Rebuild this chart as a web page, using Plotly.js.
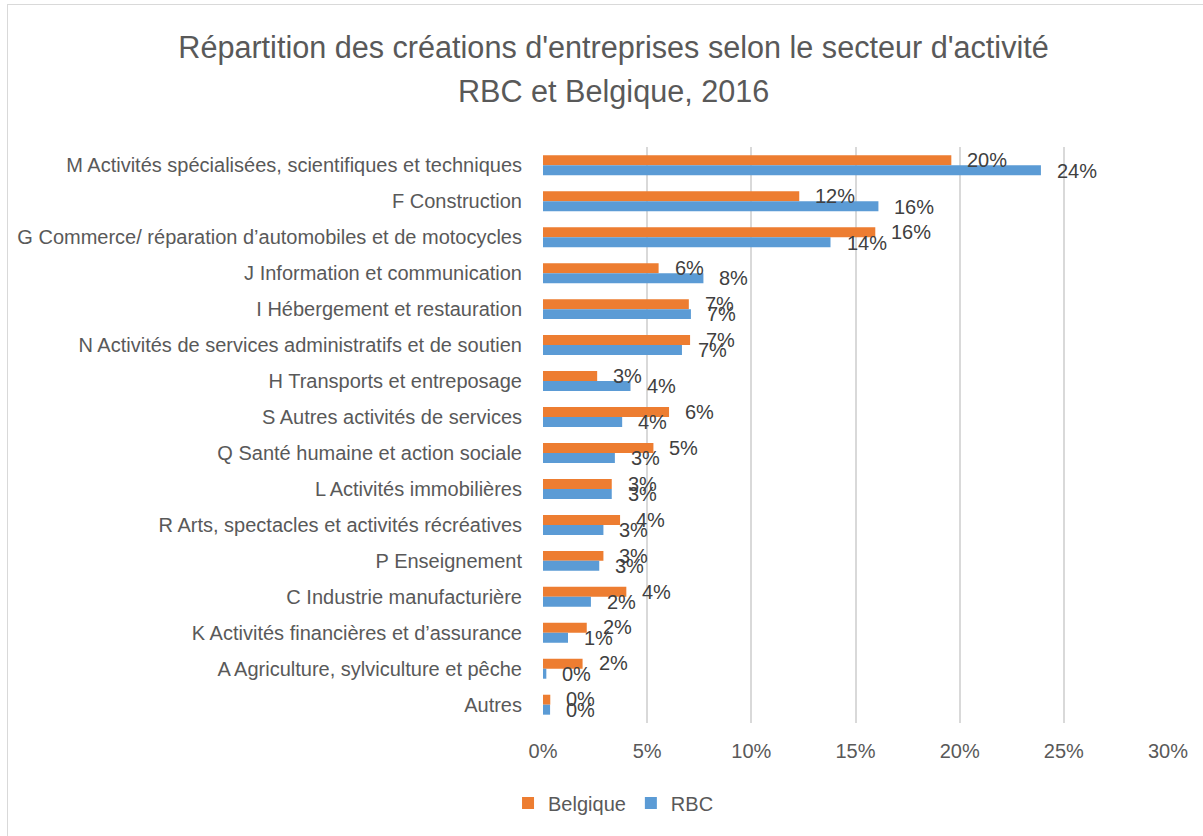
<!DOCTYPE html>
<html>
<head>
<meta charset="utf-8">
<script src="https://cdn.plot.ly/plotly-3.0.1.min.js"></script>
<style>
  html, body { margin: 0; padding: 0; background: #fff; }
  #wrap { position: relative; width: 1203px; height: 836px; overflow: hidden; }
  #chart { position: absolute; left: 0; top: 0; width: 1203px; height: 836px; }
  #frame { position: absolute; left: 7px; top: 4px; width: 1300px; height: 900px;
           border-left: 1px solid #d9d9d9; border-top: 1px solid #d9d9d9; pointer-events: none; }
</style>
</head>
<body>
<div id="wrap">
  <div id="chart"></div>
  <div id="frame"></div>
</div>
<script>
const categories = [
  "M Activités spécialisées, scientifiques et techniques",
  "F Construction",
  "G Commerce/ réparation d’automobiles et de motocycles",
  "J Information et communication",
  "I Hébergement et restauration",
  "N Activités de services administratifs et de soutien",
  "H Transports et entreposage",
  "S Autres activités de services",
  "Q Santé humaine et action sociale",
  "L Activités immobilières",
  "R Arts, spectacles et activités récréatives",
  "P Enseignement",
  "C Industrie manufacturière",
  "K Activités financières et d’assurance",
  "A Agriculture, sylviculture et pêche",
  "Autres"
];
// values in percent
const belgique = [19.6, 12.3, 15.95, 5.55, 7.0, 7.06, 2.6, 6.05, 5.3, 3.3, 3.7, 2.9, 4.0, 2.1, 1.9, 0.35];
const rbc      = [23.9, 16.1, 13.8, 7.7, 7.1, 6.67, 4.2, 3.8, 3.45, 3.3, 2.9, 2.7, 2.3, 1.2, 0.16, 0.34];
const xTickVals = [0, 5, 10, 15, 20, 25, 30];
const xTickText = ["0%", "5%", "10%", "15%", "20%", "25%", "30%"];
const titleLine1 = "Répartition des créations d'entreprises selon le secteur d'activité";
const titleLine2 = "RBC et Belgique, 2016";

const FONT = '"Liberation Sans", Arial, sans-serif';
const ORANGE = '#ED7D31';
const BLUE = '#5B9BD5';

const traces = [
  { type: 'bar', orientation: 'h', name: 'Belgique', y: categories, x: belgique,
    marker: { color: ORANGE }, hoverinfo: 'x+y' },
  { type: 'bar', orientation: 'h', name: 'RBC', y: categories, x: rbc,
    marker: { color: BLUE }, hoverinfo: 'x+y' }
];

const annotations = [];
function addLabels(vals, shift) {
  vals.forEach((v, i) => {
    annotations.push({
      x: v, y: categories[i], xref: 'x', yref: 'y',
      text: Math.round(v) + '%', showarrow: false,
      xanchor: 'left', yanchor: 'middle', xshift: 14, yshift: shift,
      font: { family: FONT, size: 20, color: '#404040' }
    });
  });
}
addLabels(belgique, 5.3);
addLabels(rbc, -5.3);

// second title line
annotations.push({
  text: titleLine2, showarrow: false,
  xref: 'paper', yref: 'paper',
  x: (613 - 543) / 625, y: (723 - 92) / 576,
  xanchor: 'center', yanchor: 'middle',
  font: { family: FONT, size: 30.6, color: '#595959' }
});

const layout = {
  width: 1203, height: 836,
  margin: { l: 543, r: 35, t: 147, b: 113 },
  paper_bgcolor: 'rgba(0,0,0,0)', plot_bgcolor: '#fff',
  font: { family: FONT, color: '#595959', size: 20 },
  title: {
    text: titleLine1,
    font: { family: FONT, size: 30.6, color: '#595959' },
    xref: 'container', x: 0.51, xanchor: 'center',
    yref: 'container', y: 1 - 47/836, yanchor: 'middle'
  },
  barmode: 'group',
  bargap: 0.445, bargroupgap: 0,
  xaxis: {
    range: [0, 30], tickvals: xTickVals, ticktext: xTickText,
    showgrid: true, gridcolor: '#d9d9d9', gridwidth: 2,
    zeroline: false, showline: false, ticks: '',
    ticklabelstandoff: 14,
    tickfont: { family: FONT, size: 20, color: '#595959' },
    fixedrange: true
  },
  yaxis: {
    type: 'category', autorange: 'reversed',
    showgrid: false, zeroline: false, showline: false, ticks: '',
    ticklabelstandoff: 20,
    tickfont: { family: FONT, size: 20, color: '#595959' },
    fixedrange: true
  },
  showlegend: true,
  legend: {
    orientation: 'h', xref: 'container', yref: 'container',
    x: 0.51, xanchor: 'center', y: 1 - 803/836, yanchor: 'middle',
    font: { family: FONT, size: 20, color: '#595959' },
    traceorder: 'normal', itemwidth: 30
  },
  annotations: annotations
};

Plotly.newPlot('chart', traces, layout, { displayModeBar: false, staticPlot: true });
</script>
</body>
</html>
